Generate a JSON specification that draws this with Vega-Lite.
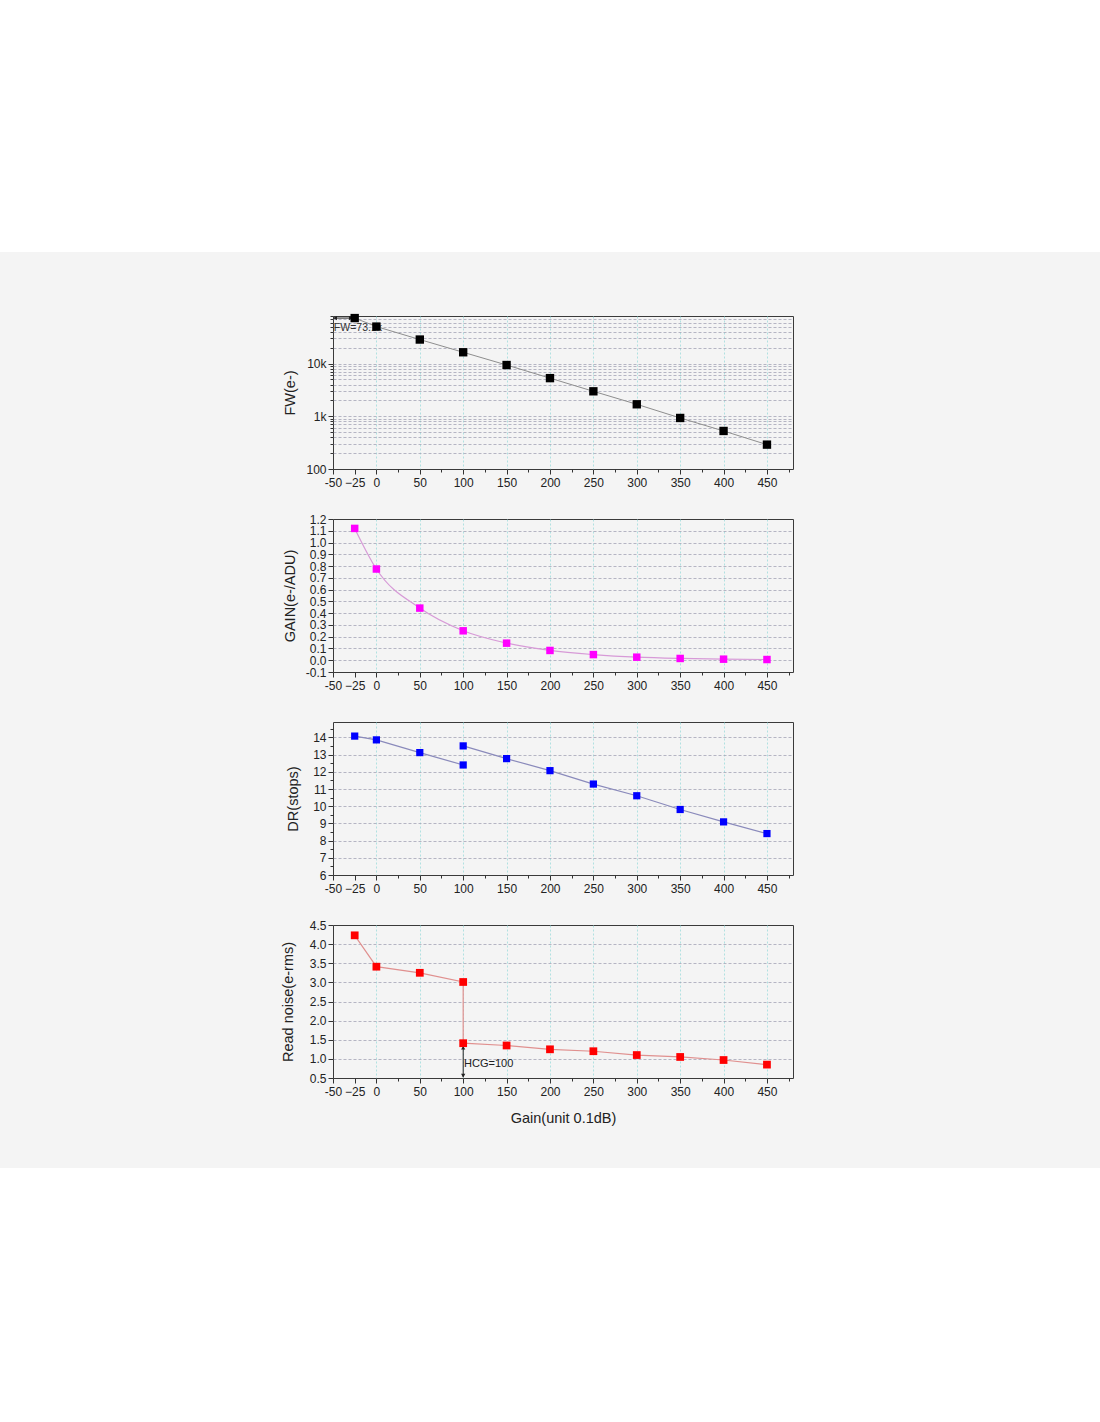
{
  "$schema": "https://vega.github.io/schema/vega-lite/v6.json",
  "description": "FW, gain, DR and read noise against gain setting.",
  "background": "#f4f4f4",
  "padding": 0,
  "spacing": 0,
  "datasets": {
    "fw": [
      {"gain": -25, "fw": 73100},
      {"gain": 0, "fw": 50400},
      {"gain": 50, "fw": 28600},
      {"gain": 100, "fw": 16400},
      {"gain": 150, "fw": 9400},
      {"gain": 200, "fw": 5300},
      {"gain": 250, "fw": 2980},
      {"gain": 300, "fw": 1690},
      {"gain": 350, "fw": 930},
      {"gain": 400, "fw": 527},
      {"gain": 450, "fw": 290}
    ],
    "gainval": [
      {"gain": -25, "g": 1.12},
      {"gain": 0, "g": 0.775},
      {"gain": 50, "g": 0.443},
      {"gain": 100, "g": 0.25},
      {"gain": 150, "g": 0.145},
      {"gain": 200, "g": 0.083},
      {"gain": 250, "g": 0.048},
      {"gain": 300, "g": 0.026},
      {"gain": 350, "g": 0.015},
      {"gain": 400, "g": 0.009},
      {"gain": 450, "g": 0.006}
    ],
    "dr": [
      {"gain": -25, "dr": 14.08, "seg": "lcg"},
      {"gain": 0, "dr": 13.86, "seg": "lcg"},
      {"gain": 50, "dr": 13.12, "seg": "lcg"},
      {"gain": 100, "dr": 12.40, "seg": "lcg"},
      {"gain": 100, "dr": 13.51, "seg": "hcg"},
      {"gain": 150, "dr": 12.77, "seg": "hcg"},
      {"gain": 200, "dr": 12.07, "seg": "hcg"},
      {"gain": 250, "dr": 11.29, "seg": "hcg"},
      {"gain": 300, "dr": 10.61, "seg": "hcg"},
      {"gain": 350, "dr": 9.81, "seg": "hcg"},
      {"gain": 400, "dr": 9.09, "seg": "hcg"},
      {"gain": 450, "dr": 8.41, "seg": "hcg"}
    ],
    "rn": [
      {"gain": -25, "rn": 4.23, "ord": 1},
      {"gain": 0, "rn": 3.41, "ord": 2},
      {"gain": 50, "rn": 3.25, "ord": 3},
      {"gain": 100, "rn": 3.01, "ord": 4},
      {"gain": 100, "rn": 1.41, "ord": 5},
      {"gain": 150, "rn": 1.35, "ord": 6},
      {"gain": 200, "rn": 1.25, "ord": 7},
      {"gain": 250, "rn": 1.20, "ord": 8},
      {"gain": 300, "rn": 1.10, "ord": 9},
      {"gain": 350, "rn": 1.05, "ord": 10},
      {"gain": 400, "rn": 0.97, "ord": 11},
      {"gain": 450, "rn": 0.85, "ord": 12}
    ]
  },
  "vconcat": [
    {
      "width": 1100,
      "height": 252,
      "view": {"fill": "white", "stroke": null},
      "mark": {"type": "point", "opacity": 0},
      "encoding": {}
    },
    {
      "spacing": 0,
      "hconcat": [
        {
          "width": 279,
          "height": 10,
          "view": {"stroke": null},
          "mark": {"type": "point", "opacity": 0},
          "encoding": {}
        },
        {
          "bounds": "flush",
          "spacing": 50,
          "vconcat": [
            {
              "width": 460,
              "height": 14,
              "view": {"stroke": null},
              "mark": {"type": "point", "opacity": 0},
              "encoding": {}
            },
            {
              "width": 460,
              "height": 153,
              "data": {"name": "fw"},
              "encoding": {
                "x": {
                  "field": "gain",
                  "type": "quantitative",
                  "scale": {"domain": [-50, 480], "nice": false, "zero": false},
                  "axis": {
                    "title": null,
                    "values": [-50, -25, 0, 25, 50, 75, 100, 125, 150, 175, 200, 225, 250, 275, 300, 325, 350, 375, 400, 425, 450, 475],
                    "labelExpr": "datum.value == -50 ? '-50' : (datum.value % 50 == 0 || datum.value == -25) ? datum.label : ''",
                    "tickSize": {"condition": {"test": "datum.value % 50 == 0 || datum.value == -25", "value": 5}, "value": 3},
                    "gridColor": "#9edcdc",
                    "gridDash": [2, 2],
                    "gridOpacity": {"condition": {"test": "datum.value >= 0 && datum.value % 50 == 0", "value": 1}, "value": 0}
                  }
                },
                "y": {
                  "field": "fw",
                  "type": "quantitative",
                  "scale": {"type": "log", "domain": [100, 80000], "nice": false},
                  "axis": {
                    "title": "FW(e-)",
                    "titlePadding": 8,
                    "values": [100, 200, 300, 400, 500, 600, 700, 800, 900, 1000, 2000, 3000, 4000, 5000, 6000, 7000, 8000, 9000, 10000, 20000, 30000, 40000, 50000, 60000, 70000, 80000],
                    "labelExpr": "datum.value == 100 ? '100' : datum.value == 1000 ? '1k' : datum.value == 10000 ? '10k' : ''",
                    "tickSize": {"condition": {"test": "datum.value == 100 || datum.value == 1000 || datum.value == 10000", "value": 5}, "value": 3},
                    "gridOpacity": {"condition": {"test": "datum.value > 100 && datum.value < 80000", "value": 1}, "value": 0}
                  }
                }
              },
              "layer": [
                {"mark": {"type": "line", "color": "#8e8e8e", "strokeWidth": 1}},
                {
                  "data": {"values": [{"gain": -49, "fw": 47000, "label": "FW=73.1k"}]},
                  "mark": {"type": "text", "align": "left", "baseline": "middle", "fontSize": 10.5, "color": "#333"},
                  "encoding": {"text": {"field": "label"}}
                },
                {
                  "data": {"values": [{"gain": -49, "gain2": -28, "fw": 73100}]},
                  "mark": {"type": "rule", "color": "#222", "strokeWidth": 1},
                  "encoding": {"x2": {"field": "gain2"}}
                },
                {
                  "data": {"values": [{"gain": -47.5, "fw": 73100}]},
                  "mark": {"type": "point", "shape": "triangle-left", "filled": true, "color": "#222", "size": 18, "opacity": 1}
                },
                {
                  "data": {"values": [{"gain": -29.5, "fw": 73100}]},
                  "mark": {"type": "point", "shape": "triangle-right", "filled": true, "color": "#222", "size": 18, "opacity": 1}
                },
                {"mark": {"type": "square", "color": "#000000", "size": 70, "opacity": 1}}
              ]
            },
            {
              "width": 460,
              "height": 153,
              "data": {"name": "gainval"},
              "encoding": {
                "x": {
                  "field": "gain",
                  "type": "quantitative",
                  "scale": {"domain": [-50, 480], "nice": false, "zero": false},
                  "axis": {
                    "title": null,
                    "values": [-50, -25, 0, 25, 50, 75, 100, 125, 150, 175, 200, 225, 250, 275, 300, 325, 350, 375, 400, 425, 450, 475],
                    "labelExpr": "datum.value == -50 ? '-50' : (datum.value % 50 == 0 || datum.value == -25) ? datum.label : ''",
                    "tickSize": {"condition": {"test": "datum.value % 50 == 0 || datum.value == -25", "value": 5}, "value": 3},
                    "gridColor": "#9edcdc",
                    "gridDash": [2, 2],
                    "gridOpacity": {"condition": {"test": "datum.value >= 0 && datum.value % 50 == 0", "value": 1}, "value": 0}
                  }
                },
                "y": {
                  "field": "g",
                  "type": "quantitative",
                  "scale": {"domain": [-0.1, 1.2], "nice": false, "zero": false},
                  "axis": {
                    "title": "GAIN(e-/ADU)",
                    "titlePadding": 8,
                    "values": [-0.1, 0, 0.1, 0.2, 0.3, 0.4, 0.5, 0.6, 0.7, 0.8, 0.9, 1.0, 1.1, 1.2],
                    "format": ".1f",
                    "labelExpr": "replace(datum.label, '−', '-')",
                    "gridOpacity": {"condition": {"test": "datum.value > -0.05 && datum.value < 1.15", "value": 1}, "value": 0}
                  }
                }
              },
              "layer": [
                {"mark": {"type": "line", "color": "#d79ad7", "strokeWidth": 1.2, "interpolate": "monotone"}},
                {"mark": {"type": "square", "color": "#ff00ff", "size": 56, "opacity": 1}}
              ]
            },
            {
              "width": 460,
              "height": 153,
              "data": {"name": "dr"},
              "encoding": {
                "x": {
                  "field": "gain",
                  "type": "quantitative",
                  "scale": {"domain": [-50, 480], "nice": false, "zero": false},
                  "axis": {
                    "title": null,
                    "values": [-50, -25, 0, 25, 50, 75, 100, 125, 150, 175, 200, 225, 250, 275, 300, 325, 350, 375, 400, 425, 450, 475],
                    "labelExpr": "datum.value == -50 ? '-50' : (datum.value % 50 == 0 || datum.value == -25) ? datum.label : ''",
                    "tickSize": {"condition": {"test": "datum.value % 50 == 0 || datum.value == -25", "value": 5}, "value": 3},
                    "gridColor": "#9edcdc",
                    "gridDash": [2, 2],
                    "gridOpacity": {"condition": {"test": "datum.value >= 0 && datum.value % 50 == 0", "value": 1}, "value": 0}
                  }
                },
                "y": {
                  "field": "dr",
                  "type": "quantitative",
                  "scale": {"domain": [6, 14.9], "nice": false, "zero": false},
                  "axis": {
                    "title": "DR(stops)",
                    "titlePadding": 12,
                    "values": [6, 6.5, 7, 7.5, 8, 8.5, 9, 9.5, 10, 10.5, 11, 11.5, 12, 12.5, 13, 13.5, 14, 14.5],
                    "labelExpr": "datum.value % 1 == 0 ? format(datum.value, 'd') : ''",
                    "tickSize": {"condition": {"test": "datum.value % 1 == 0", "value": 5}, "value": 3},
                    "gridOpacity": {"condition": {"test": "datum.value % 1 == 0 && datum.value > 6", "value": 1}, "value": 0}
                  }
                },
                "detail": {"field": "seg"}
              },
              "layer": [
                {"mark": {"type": "line", "color": "#8a8abb", "strokeWidth": 1.2}},
                {"mark": {"type": "square", "color": "#0000ff", "size": 52, "opacity": 1}}
              ]
            },
            {
              "width": 460,
              "height": 153,
              "data": {"name": "rn"},
              "encoding": {
                "x": {
                  "field": "gain",
                  "type": "quantitative",
                  "scale": {"domain": [-50, 480], "nice": false, "zero": false},
                  "axis": {
                    "title": "Gain(unit 0.1dB)",
                    "titlePadding": 14,
                    "values": [-50, -25, 0, 25, 50, 75, 100, 125, 150, 175, 200, 225, 250, 275, 300, 325, 350, 375, 400, 425, 450, 475],
                    "labelExpr": "datum.value == -50 ? '-50' : (datum.value % 50 == 0 || datum.value == -25) ? datum.label : ''",
                    "tickSize": {"condition": {"test": "datum.value % 50 == 0 || datum.value == -25", "value": 5}, "value": 3},
                    "gridColor": "#9edcdc",
                    "gridDash": [2, 2],
                    "gridOpacity": {"condition": {"test": "datum.value >= 0 && datum.value % 50 == 0", "value": 1}, "value": 0}
                  }
                },
                "y": {
                  "field": "rn",
                  "type": "quantitative",
                  "scale": {"domain": [0.5, 4.5], "nice": false, "zero": false},
                  "axis": {
                    "title": "Read noise(e-rms)",
                    "titlePadding": 14,
                    "values": [0.5, 1.0, 1.5, 2.0, 2.5, 3.0, 3.5, 4.0, 4.5],
                    "format": ".1f",
                    "gridOpacity": {"condition": {"test": "datum.value > 0.6 && datum.value < 4.4", "value": 1}, "value": 0}
                  }
                },
                "order": {"field": "ord"}
              },
              "layer": [
                {"mark": {"type": "line", "color": "#e0908f", "strokeWidth": 1.2}},
                {
                  "data": {"values": [{"gain": 100, "rn": 1.33, "rn2": 0.52}]},
                  "mark": {"type": "rule", "color": "#222", "strokeWidth": 1},
                  "encoding": {"y2": {"field": "rn2"}, "order": null}
                },
                {
                  "data": {"values": [{"gain": 100, "rn": 1.29}]},
                  "mark": {"type": "point", "shape": "triangle-up", "filled": true, "color": "#222", "size": 18, "opacity": 1},
                  "encoding": {"order": null}
                },
                {
                  "data": {"values": [{"gain": 100, "rn": 0.56}]},
                  "mark": {"type": "point", "shape": "triangle-down", "filled": true, "color": "#222", "size": 18, "opacity": 1},
                  "encoding": {"order": null}
                },
                {
                  "data": {"values": [{"gain": 101, "rn": 0.86, "label": "HCG=100"}]},
                  "mark": {"type": "text", "align": "left", "baseline": "middle", "fontSize": 11, "color": "#222"},
                  "encoding": {"text": {"field": "label"}, "order": null}
                },
                {"mark": {"type": "square", "color": "#ff0000", "size": 60, "opacity": 1}}
              ]
            },
            {
              "width": 460,
              "height": 40,
              "view": {"stroke": null},
              "mark": {"type": "point", "opacity": 0},
              "encoding": {}
            }
          ]
        }
      ]
    },
    {
      "width": 1100,
      "height": 254,
      "view": {"fill": "white", "stroke": null},
      "mark": {"type": "point", "opacity": 0},
      "encoding": {}
    }
  ],
  "config": {
    "font": "Liberation Sans",
    "view": {"stroke": "#3a3a3a", "strokeWidth": 1},
    "axis": {
      "domain": false,
      "grid": true,
      "gridColor": "#a4a4b6",
      "gridDash": [3, 2],
      "gridWidth": 0.8,
      "tickColor": "#333",
      "tickWidth": 1,
      "labelFontSize": 12,
      "labelColor": "#222",
      "labelPadding": 2,
      "labelOverlap": false,
      "labelFlush": false,
      "labelBound": false,
      "titleFontSize": 14.5,
      "titleFontWeight": "normal",
      "titleColor": "#222"
    },
    "axisX": {"labelPadding": 3}
  }
}
